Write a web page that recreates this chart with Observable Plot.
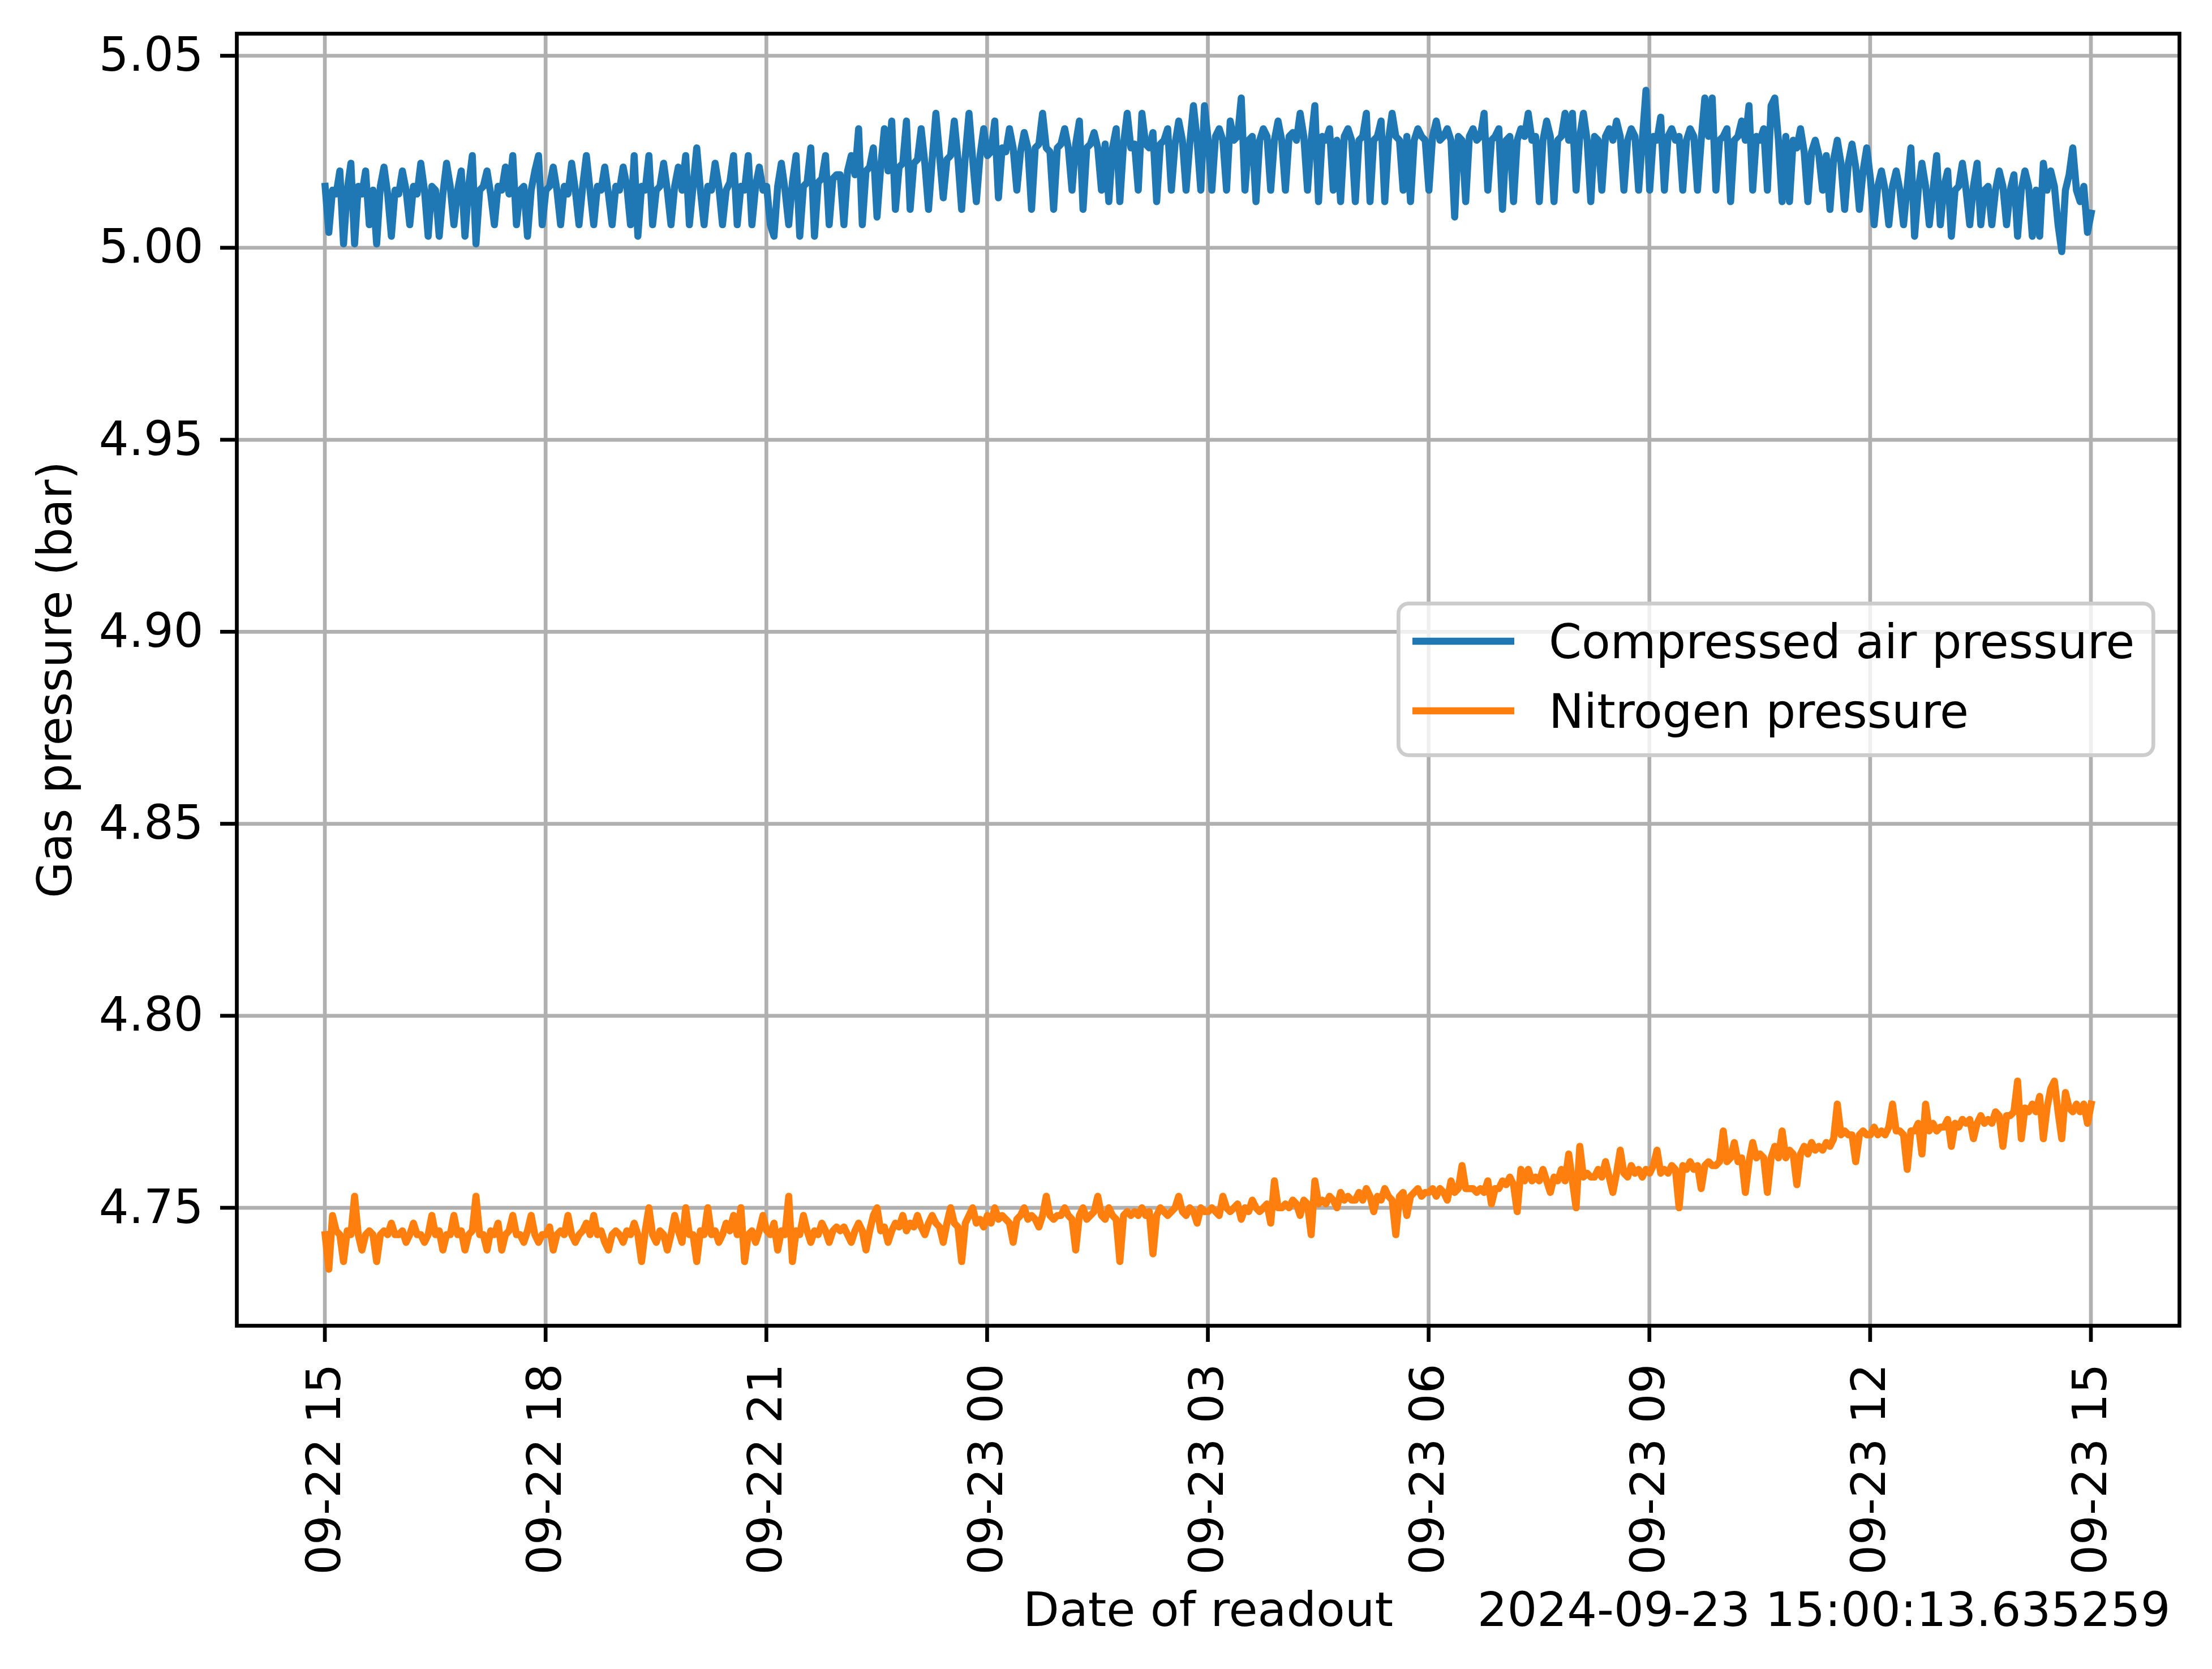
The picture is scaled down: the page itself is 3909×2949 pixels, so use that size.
<!DOCTYPE html>
<html><head><meta charset="utf-8">
<script src="https://cdn.jsdelivr.net/npm/d3@7"></script>
<script src="https://cdn.jsdelivr.net/npm/@observablehq/plot@0.6"></script>
<style>
html,body{margin:0;padding:0;background:#fff;}
#wrap{position:relative;width:3909px;height:2949px;font-family:"DejaVu Sans";}
#legend{position:absolute;left:2468px;top:1063px;}
</style></head><body><div id="wrap"></div>
<script>
// ---- data ----
const seriesNames = ["Compressed air pressure", "Nitrogen pressure"];
const seriesColors = ["#1f77b4", "#ff7f0e"];
const startTime = "2024-09-22T15:00:13.635Z";
const stepMinutes = 3;
const xLabel = "Date of readout";
const yLabel = "Gas pressure (bar)";
const offsetText = "2024-09-23 15:00:13.635259";
const yTicks = [4.75, 4.80, 4.85, 4.90, 4.95, 5.00, 5.05];
const xTickFirst = "2024-09-22T15:00:00Z";
const xTickLast = "2024-09-23T15:00:00Z";
const xDomain = ["2024-09-22T13:48:13Z", "2024-09-23T16:12:13Z"];
const yDomain = [4.71928, 5.05575];

const airPressure = [
5.016,5.004,5.015,5.014,5.020,5.001,5.015,5.022,5.001,5.016,5.014,5.020,5.006,5.015,5.001,5.016,5.021,5.014,5.003,5.015,
5.014,5.020,5.015,5.006,5.016,5.014,5.022,5.015,5.003,5.016,5.015,5.003,5.014,5.022,5.016,5.006,5.015,5.020,5.003,5.016,
5.024,5.001,5.015,5.016,5.020,5.014,5.006,5.016,5.015,5.021,5.014,5.024,5.006,5.015,5.016,5.003,5.015,5.020,5.024,5.006,
5.015,5.016,5.021,5.015,5.006,5.016,5.014,5.022,5.015,5.006,5.016,5.024,5.015,5.006,5.016,5.015,5.021,5.014,5.006,5.016,
5.015,5.021,5.016,5.006,5.024,5.003,5.016,5.015,5.024,5.006,5.015,5.016,5.022,5.015,5.006,5.016,5.021,5.015,5.024,5.006,
5.016,5.026,5.015,5.006,5.016,5.015,5.022,5.016,5.006,5.015,5.017,5.024,5.006,5.016,5.015,5.024,5.006,5.016,5.021,5.015,
5.016,5.006,5.003,5.016,5.022,5.015,5.006,5.017,5.024,5.003,5.016,5.017,5.026,5.003,5.017,5.018,5.024,5.006,5.018,5.019,
5.019,5.006,5.020,5.024,5.019,5.031,5.006,5.020,5.021,5.026,5.008,5.021,5.031,5.020,5.033,5.010,5.021,5.022,5.033,5.010,
5.022,5.023,5.031,5.022,5.010,5.023,5.035,5.024,5.013,5.023,5.024,5.033,5.023,5.010,5.024,5.035,5.023,5.012,5.024,5.031,
5.024,5.025,5.033,5.013,5.026,5.025,5.031,5.026,5.015,5.025,5.030,5.026,5.010,5.026,5.027,5.035,5.026,5.025,5.010,5.026,
5.027,5.031,5.026,5.015,5.027,5.033,5.010,5.026,5.027,5.030,5.026,5.015,5.027,5.012,5.026,5.031,5.012,5.027,5.035,5.026,
5.027,5.015,5.035,5.027,5.026,5.030,5.012,5.027,5.028,5.031,5.015,5.027,5.033,5.028,5.015,5.027,5.037,5.028,5.015,5.037,
5.028,5.015,5.029,5.031,5.028,5.015,5.033,5.028,5.029,5.039,5.015,5.028,5.029,5.012,5.028,5.031,5.029,5.015,5.028,5.033,
5.028,5.015,5.029,5.030,5.028,5.035,5.029,5.015,5.028,5.037,5.012,5.029,5.028,5.031,5.015,5.028,5.012,5.029,5.031,5.028,
5.012,5.028,5.029,5.035,5.012,5.028,5.029,5.033,5.012,5.028,5.035,5.029,5.028,5.015,5.029,5.012,5.028,5.031,5.029,5.028,
5.015,5.029,5.033,5.028,5.029,5.031,5.028,5.008,5.029,5.028,5.012,5.029,5.031,5.028,5.029,5.035,5.015,5.028,5.029,5.031,
5.010,5.028,5.029,5.012,5.028,5.031,5.029,5.035,5.028,5.029,5.012,5.028,5.033,5.029,5.012,5.028,5.029,5.035,5.028,5.035,
5.015,5.029,5.035,5.028,5.012,5.029,5.028,5.015,5.029,5.031,5.028,5.033,5.029,5.015,5.028,5.031,5.029,5.015,5.028,5.041,
5.015,5.029,5.028,5.034,5.015,5.029,5.031,5.028,5.029,5.015,5.028,5.031,5.029,5.015,5.028,5.039,5.029,5.039,5.015,5.028,
5.029,5.031,5.012,5.028,5.029,5.033,5.028,5.037,5.015,5.029,5.028,5.031,5.015,5.037,5.039,5.028,5.012,5.029,5.012,5.028,
5.026,5.031,5.025,5.012,5.025,5.028,5.024,5.015,5.024,5.010,5.023,5.028,5.022,5.010,5.022,5.027,5.021,5.010,5.020,5.026,
5.018,5.006,5.016,5.020,5.015,5.006,5.016,5.020,5.015,5.006,5.016,5.026,5.003,5.015,5.022,5.016,5.006,5.015,5.024,5.006,
5.016,5.020,5.003,5.015,5.016,5.022,5.015,5.006,5.016,5.022,5.006,5.015,5.016,5.006,5.015,5.020,5.016,5.006,5.015,5.019,
5.003,5.015,5.020,5.016,5.003,5.015,5.003,5.022,5.015,5.020,5.016,5.006,4.999,5.015,5.019,5.026,5.015,5.012,5.016,5.004,
5.009
];

const nitrogenPressure = [
4.743,4.734,4.748,4.744,4.743,4.736,4.744,4.743,4.753,4.743,4.739,4.743,4.744,4.743,4.736,4.743,4.744,4.743,4.746,4.743,
4.743,4.744,4.741,4.743,4.746,4.743,4.743,4.741,4.743,4.748,4.743,4.744,4.739,4.743,4.743,4.748,4.743,4.744,4.739,4.743,
4.744,4.753,4.743,4.743,4.739,4.744,4.743,4.746,4.739,4.743,4.744,4.748,4.743,4.743,4.741,4.744,4.748,4.743,4.741,4.743,
4.743,4.745,4.739,4.743,4.744,4.743,4.748,4.743,4.741,4.743,4.744,4.746,4.743,4.748,4.743,4.744,4.741,4.739,4.743,4.744,
4.743,4.741,4.744,4.743,4.746,4.743,4.736,4.744,4.750,4.743,4.741,4.744,4.743,4.739,4.743,4.748,4.744,4.741,4.750,4.743,
4.743,4.736,4.744,4.743,4.750,4.743,4.744,4.741,4.743,4.746,4.744,4.748,4.743,4.750,4.736,4.743,4.744,4.741,4.744,4.748,
4.744,4.743,4.746,4.739,4.744,4.743,4.753,4.736,4.744,4.743,4.748,4.744,4.741,4.744,4.743,4.746,4.744,4.741,4.744,4.745,
4.744,4.745,4.743,4.741,4.744,4.746,4.744,4.739,4.744,4.748,4.750,4.744,4.745,4.741,4.744,4.746,4.745,4.748,4.744,4.746,
4.745,4.748,4.745,4.743,4.746,4.748,4.746,4.745,4.741,4.746,4.750,4.746,4.745,4.736,4.746,4.748,4.750,4.746,4.747,4.745,
4.748,4.746,4.750,4.747,4.748,4.747,4.746,4.741,4.747,4.748,4.750,4.747,4.748,4.747,4.745,4.748,4.753,4.748,4.747,4.748,
4.748,4.750,4.748,4.747,4.739,4.748,4.750,4.747,4.748,4.749,4.753,4.748,4.747,4.750,4.748,4.747,4.736,4.748,4.749,4.748,
4.749,4.748,4.750,4.748,4.749,4.738,4.748,4.750,4.749,4.748,4.749,4.750,4.753,4.749,4.748,4.750,4.749,4.746,4.750,4.749,
4.749,4.750,4.749,4.748,4.753,4.750,4.749,4.750,4.751,4.747,4.750,4.749,4.752,4.750,4.749,4.750,4.751,4.746,4.757,4.750,
4.750,4.751,4.750,4.752,4.751,4.748,4.752,4.751,4.743,4.757,4.751,4.752,4.751,4.753,4.752,4.750,4.754,4.752,4.753,4.752,
4.752,4.754,4.752,4.755,4.753,4.749,4.753,4.752,4.755,4.753,4.752,4.743,4.753,4.754,4.748,4.753,4.754,4.755,4.753,4.754,
4.754,4.755,4.753,4.755,4.754,4.752,4.757,4.754,4.755,4.761,4.755,4.755,4.755,4.754,4.755,4.754,4.757,4.751,4.755,4.755,
4.757,4.756,4.758,4.756,4.749,4.760,4.757,4.760,4.757,4.758,4.757,4.760,4.757,4.754,4.758,4.757,4.760,4.757,4.764,4.757,
4.750,4.766,4.758,4.759,4.758,4.758,4.760,4.758,4.762,4.758,4.754,4.759,4.765,4.759,4.758,4.761,4.759,4.760,4.758,4.760,
4.759,4.761,4.765,4.759,4.760,4.759,4.761,4.760,4.750,4.761,4.760,4.762,4.760,4.761,4.755,4.761,4.762,4.761,4.761,4.762,
4.770,4.762,4.763,4.767,4.762,4.763,4.754,4.762,4.767,4.763,4.764,4.763,4.754,4.763,4.766,4.763,4.770,4.763,4.765,4.764,
4.756,4.764,4.766,4.764,4.767,4.765,4.766,4.765,4.767,4.766,4.768,4.777,4.769,4.770,4.769,4.769,4.762,4.769,4.770,4.769,
4.769,4.771,4.769,4.770,4.769,4.771,4.777,4.770,4.770,4.769,4.760,4.770,4.770,4.772,4.764,4.777,4.770,4.772,4.770,4.771,
4.771,4.773,4.766,4.772,4.771,4.773,4.772,4.773,4.768,4.772,4.774,4.772,4.773,4.772,4.775,4.774,4.766,4.774,4.774,4.775,
4.783,4.768,4.776,4.775,4.777,4.775,4.779,4.768,4.776,4.781,4.783,4.775,4.768,4.780,4.776,4.775,4.777,4.775,4.777,4.772,
4.777
];

// ---- build tables ----
const t0 = new Date(startTime).getTime();
const stepMs = stepMinutes * 60 * 1000;
const airRows = airPressure.map((v, i) => ({t: new Date(t0 + i * stepMs), v}));
const nitRows = nitrogenPressure.map((v, i) => ({t: new Date(t0 + i * stepMs), v}));
const xTicks = d3.utcHour.every(3).range(new Date(xTickFirst), new Date(new Date(xTickLast).getTime() + 1));

const LW = 12.5, AX = 6.7, FS = 83;

const chart = Plot.plot({
  width: 3909, height: 2949,
  marginLeft: 418, marginRight: 58, marginTop: 59, marginBottom: 607,
  style: {fontFamily: "DejaVu Sans", fontSize: FS + "px", background: "white", color: "black", overflow: "visible"},
  x: {type: "utc", domain: xDomain.map(d => new Date(d))},
  y: {domain: yDomain},
  marks: [
    Plot.gridX(xTicks, {stroke: "#b0b0b0", strokeOpacity: 1, strokeWidth: AX}),
    Plot.gridY(yTicks, {stroke: "#b0b0b0", strokeOpacity: 1, strokeWidth: AX}),
    Plot.lineY(airRows, {x: "t", y: "v", stroke: seriesColors[0], strokeWidth: LW, strokeLinejoin: "round", strokeLinecap: "square"}),
    Plot.lineY(nitRows, {x: "t", y: "v", stroke: seriesColors[1], strokeWidth: LW, strokeLinejoin: "round", strokeLinecap: "square"}),
    Plot.frame({stroke: "black", strokeWidth: AX}),
    Plot.axisX({ticks: xTicks, tickFormat: d3.utcFormat("%m-%d %H"), tickRotate: -90, tickSize: 29, tickPadding: 38, strokeWidth: AX, fontSize: FS, label: null}),
    Plot.axisY({ticks: yTicks, tickFormat: d3.format(".2f"), tickSize: 29, tickPadding: 30, strokeWidth: AX, fontSize: FS, label: null}),
    Plot.text([xLabel], {text: d => d, frameAnchor: "bottom", lineAnchor: "bottom", dy: 530, fontSize: FS}),
    Plot.text([offsetText], {text: d => d, frameAnchor: "bottom-right", textAnchor: "end", lineAnchor: "bottom", dy: 530, dx: -16, fontSize: FS}),
    Plot.text([yLabel], {text: d => d, frameAnchor: "left", textAnchor: "middle", rotate: -90, lineAnchor: "bottom", dx: -293, fontSize: FS})
  ]
});
const wrap = document.getElementById("wrap");
wrap.appendChild(chart);

// ---- legend (overlay) ----
const lg = d3.select(wrap).append("svg").attr("id", "legend")
  .attr("width", 1345).attr("height", 280)
  .style("overflow", "visible");
lg.append("rect").attr("x", 3.35).attr("y", 3.35).attr("width", 1334).attr("height", 268)
  .attr("rx", 18).attr("fill", "white").attr("fill-opacity", 0.8)
  .attr("stroke", "#cccccc").attr("stroke-width", AX);
seriesNames.forEach((name, i) => {
  const cy = 70 + i * 123;
  lg.append("line").attr("x1", 28).attr("x2", 208).attr("y1", cy).attr("y2", cy)
    .attr("stroke", seriesColors[i]).attr("stroke-width", LW);
  lg.append("text").attr("x", 269).attr("y", cy + 30)
    .attr("font-family", "DejaVu Sans").attr("font-size", FS).attr("fill", "black").text(name);
});
</script></body></html>
